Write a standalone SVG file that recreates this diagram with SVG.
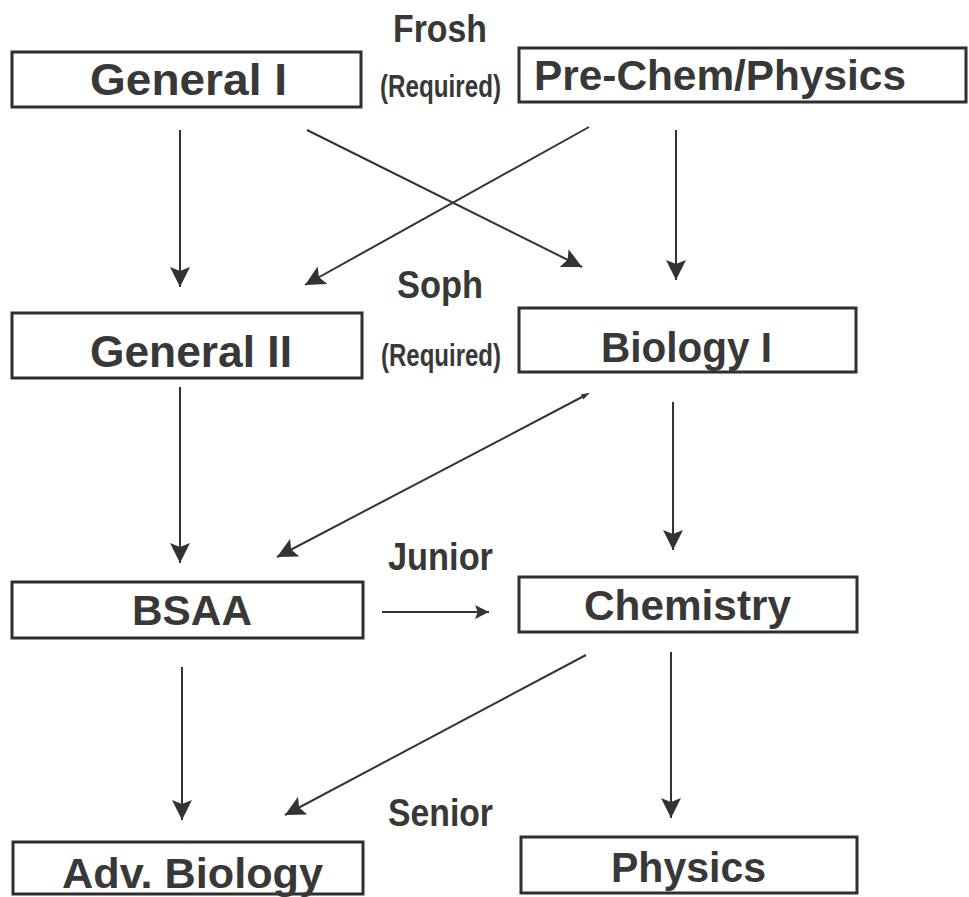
<svg xmlns="http://www.w3.org/2000/svg" width="969" height="897" viewBox="0 0 969 897">
<style>
.box{fill:#fff;stroke:#2f2f2f;stroke-width:3}
.lbl{font-family:"Liberation Sans",Arial,sans-serif;font-weight:bold;fill:#383838;text-anchor:start}
.node{font-size:42px}
.hdr{font-size:38px}
.req{font-size:31px}
.edge{stroke:#333;stroke-width:2;fill:none;marker-end:url(#ah)}
</style>
<defs>
<marker id="ah" viewBox="0 0 10 10" refX="10" refY="5" markerWidth="20" markerHeight="20" markerUnits="userSpaceOnUse" orient="auto">
<path d="M0,0 L10,5 L0,10 L2,5 z" fill="#333"/>
</marker>
<marker id="ahs" viewBox="0 0 10 10" refX="10" refY="5" markerWidth="14" markerHeight="14" markerUnits="userSpaceOnUse" orient="auto">
<path d="M0,0 L10,5 L0,10 L2,5 z" fill="#333"/>
</marker>
<marker id="ahstart" viewBox="0 0 10 10" refX="0" refY="5" markerWidth="11" markerHeight="9" markerUnits="userSpaceOnUse" orient="auto-start-reverse">
<path d="M0,2 L10,5 L0,8 z" fill="#333"/>
</marker>
</defs>
<rect width="969" height="897" fill="#fff"/>

<g id="headers" class="lbl">
<text class="hdr" x="393" y="42" textLength="94" lengthAdjust="spacingAndGlyphs">Frosh</text>
<text class="req" x="380" y="97" textLength="121" lengthAdjust="spacingAndGlyphs">(Required)</text>
<text class="hdr" x="397" y="298" textLength="86" lengthAdjust="spacingAndGlyphs">Soph</text>
<text class="req" x="381" y="366" textLength="120" lengthAdjust="spacingAndGlyphs">(Required)</text>
<text class="hdr" x="388" y="570" textLength="105" lengthAdjust="spacingAndGlyphs">Junior</text>
<text class="hdr" x="388" y="826" textLength="105" lengthAdjust="spacingAndGlyphs">Senior</text>
</g>

<g id="general1">
<rect class="box" x="12" y="52" width="349" height="55"/>
<text class="lbl node" x="90" y="95" style="font-size:45px" textLength="197" lengthAdjust="spacingAndGlyphs">General I</text>
</g>
<g id="prechem">
<rect class="box" x="519" y="48" width="447" height="54"/>
<text class="lbl node" x="534" y="90" textLength="372" lengthAdjust="spacingAndGlyphs">Pre-Chem/Physics</text>
</g>
<g id="general2">
<rect class="box" x="12" y="313" width="350" height="65"/>
<text class="lbl node" x="90" y="367" style="font-size:44px" textLength="202" lengthAdjust="spacingAndGlyphs">General II</text>
</g>
<g id="biology1">
<rect class="box" x="519" y="308" width="337" height="64"/>
<text class="lbl node" x="601" y="362" textLength="171" lengthAdjust="spacingAndGlyphs">Biology I</text>
</g>
<g id="bsaa">
<rect class="box" x="12" y="582" width="351" height="56"/>
<text class="lbl node" x="132" y="625" textLength="120" lengthAdjust="spacingAndGlyphs">BSAA</text>
</g>
<g id="chemistry">
<rect class="box" x="519" y="577" width="338" height="55"/>
<text class="lbl node" x="584" y="620" textLength="207" lengthAdjust="spacingAndGlyphs">Chemistry</text>
</g>
<g id="advbiology">
<rect class="box" x="13" y="842" width="350" height="52"/>
<text class="lbl node" x="62" y="888" textLength="261" lengthAdjust="spacingAndGlyphs">Adv. Biology</text>
</g>
<g id="physics">
<rect class="box" x="521" y="837" width="336" height="56"/>
<text class="lbl node" x="611" y="882" textLength="155" lengthAdjust="spacingAndGlyphs">Physics</text>
</g>

<g id="connectors">
<line class="edge" x1="180" y1="130" x2="180" y2="287"/>
<line class="edge" x1="676" y1="130" x2="676" y2="280"/>
<line class="edge" x1="307" y1="130" x2="582" y2="267"/>
<line class="edge" x1="589" y1="127" x2="305" y2="285"/>
<line class="edge" x1="180" y1="387" x2="180" y2="563"/>
<line class="edge" x1="673" y1="402" x2="673" y2="550"/>
<line class="edge" x1="582" y1="397" x2="277" y2="557" style="marker-start:url(#ahstart)"/>
<line class="edge" x1="382" y1="612" x2="489" y2="612" style="marker-end:url(#ahs)"/>
<line class="edge" x1="182" y1="667" x2="182" y2="820"/>
<line class="edge" x1="671" y1="652" x2="671" y2="818"/>
<line class="edge" x1="586" y1="655" x2="285" y2="815"/>
</g>
</svg>
